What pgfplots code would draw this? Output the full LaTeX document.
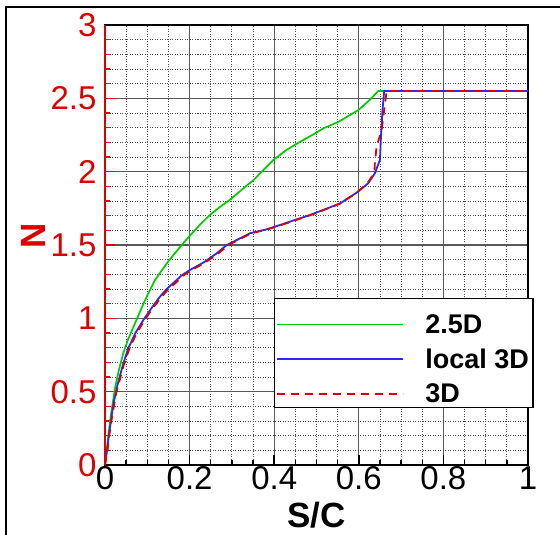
\documentclass[border=0pt]{standalone}
\usepackage{pgfplots}
\pgfplotsset{compat=1.18}
\usepackage{fontspec}
\setmainfont{Liberation Sans}
\definecolor{cgreen}{RGB}{0,205,0}
\definecolor{cblue}{RGB}{40,40,255}
\definecolor{cred}{RGB}{220,0,0}
\begin{document}
\begin{tikzpicture}
\path[use as bounding box] (-105pt,-70pt) rectangle (455pt,465pt);
\draw[line width=2pt] (-99pt,-70pt) -- (-99pt,458pt) -- (455pt,458pt);
\begin{axis}[
 scale only axis, width=423pt, height=440pt,
 xmin=0, xmax=1, ymin=0, ymax=3,
 xtick={0,0.2,0.4,0.6,0.8,1}, ytick={0,0.5,1,1.5,2,2.5,3},
 minor x tick num=3, minor y tick num=4,
 grid=both,
 major grid style={black!65, line width=1.2pt},
 minor grid style={black!70, line width=0.8pt, dash pattern=on 1pt off 1.5pt},
 axis line style={line width=1.6pt},
 tick align=inside, xtick pos=bottom, ytick pos=left,
 major tick length=10pt, minor tick length=5pt,
 x tick style={black, line width=1.5pt}, y tick style={cred, line width=1.5pt},
 /pgf/number format/assume math mode=true,
 ticklabel style={font=\fontsize{33}{36}\selectfont},
 yticklabel style={text=cred, xshift=-5pt},
 xticklabel style={text=black, yshift=2pt},
 clip=false,
 xlabel={S/C}, ylabel={N},
 every axis x label/.style={at={([yshift=-50pt]axis description cs:0.5,0)}, anchor=center, font=\fontsize{35}{38}\selectfont\bfseries},
 every axis y label/.style={at={([xshift=-72pt]axis description cs:0,0.52)}, anchor=center, rotate=90, text=cred, font=\fontsize{35}{38}\selectfont\bfseries},
 legend style={at={(axis description cs:0.3995,0.3795)}, anchor=north west, draw=black, line width=1.2pt, fill=white,
   font=\fontsize{27}{29}\selectfont\bfseries, inner xsep=2pt, inner ysep=3pt, row sep=0.5pt,
   nodes={text height=30pt, text depth=0pt, inner sep=2pt}},
 /tikz/every odd column/.append style={column sep=19pt},
 legend image code/.code={\draw[#1] (0pt,-6pt) -- (126pt,-6pt);},
 legend cell align=left,
]
\addplot[draw=cgreen, line width=1.7pt] coordinates {
(0,0) (0.002,0.05) (0.004,0.1) (0.008,0.2) (0.012,0.3) (0.017,0.4) (0.024,0.53)
(0.033,0.65) (0.043,0.76) (0.055,0.86) (0.067,0.94) (0.079,1.02) (0.091,1.10)
(0.104,1.18) (0.118,1.26) (0.135,1.33) (0.150,1.39) (0.177,1.485) (0.201,1.565)
(0.225,1.64) (0.248,1.705) (0.272,1.76) (0.296,1.81) (0.327,1.886) (0.351,1.943)
(0.374,2.01) (0.398,2.08) (0.429,2.148) (0.453,2.19) (0.49,2.25) (0.516,2.295)
(0.552,2.34) (0.579,2.386) (0.599,2.42) (0.626,2.49) (0.646,2.55) (0.658,2.55) (1,2.55)};
\addlegendentry{2.5D}
\addplot[draw=cblue, line width=1.8pt] coordinates {
(0,0) (0.002,0.05) (0.005,0.1) (0.009,0.2) (0.014,0.3) (0.019,0.4) (0.026,0.5)
(0.030,0.55) (0.042,0.68) (0.055,0.796) (0.072,0.9) (0.091,0.99) (0.110,1.07)
(0.130,1.148) (0.146,1.2) (0.161,1.239) (0.180,1.29) (0.201,1.33) (0.220,1.36)
(0.236,1.386) (0.264,1.443) (0.288,1.5) (0.319,1.545) (0.343,1.58) (0.382,1.607)
(0.421,1.643) (0.437,1.659) (0.461,1.682) (0.485,1.705) (0.516,1.739) (0.556,1.784)
(0.595,1.857) (0.622,1.92) (0.638,1.989) (0.650,2.08) (0.652,2.216) (0.656,2.42)
(0.660,2.55) (1,2.55)};
\addlegendentry{local 3D}
\addplot[draw=cred, line width=1.8pt, dash pattern=on 8pt off 6pt] coordinates {
(0,0) (0.003,0.05) (0.006,0.1) (0.010,0.2) (0.015,0.3) (0.021,0.4) (0.027,0.5)
(0.032,0.55) (0.044,0.68) (0.058,0.796) (0.075,0.9) (0.094,0.99) (0.113,1.07)
(0.134,1.148) (0.150,1.2) (0.166,1.239) (0.184,1.29) (0.205,1.33) (0.224,1.36)
(0.240,1.386) (0.268,1.443) (0.292,1.5) (0.322,1.545) (0.346,1.58) (0.385,1.607)
(0.424,1.643) (0.440,1.659) (0.463,1.682) (0.487,1.705) (0.518,1.739) (0.557,1.784)
(0.595,1.857) (0.620,1.92) (0.632,1.97) (0.637,2.0) (0.638,2.06) (0.642,2.17)
(0.654,2.284) (0.660,2.42) (0.664,2.51) (0.666,2.55) (1,2.55)};
\addlegendentry{3D}
\draw[cred, line width=2pt] (rel axis cs:0,0) -- (rel axis cs:0,1);
\end{axis}
\end{tikzpicture}
\end{document}
